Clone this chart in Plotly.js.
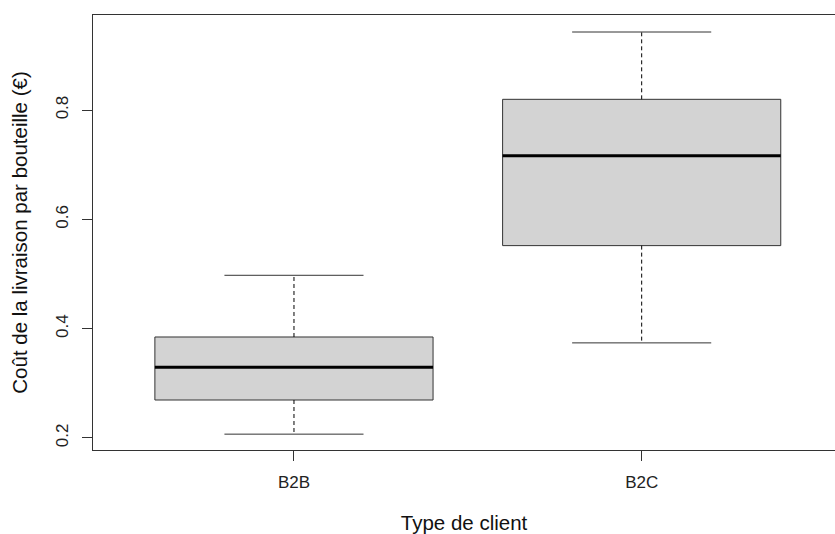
<!DOCTYPE html>
<html>
<head>
<meta charset="utf-8">
<script src="https://cdn.plot.ly/plotly-3.0.1.min.js"></script>
<style>html,body{margin:0;padding:0;background:#fff;}#chart{width:835px;height:534px;}</style>
</head>
<body>
<div id="chart"></div>
<script>
const categories = ["B2B", "B2C"];
const lowerWhisker = [0.207, 0.374];
const q1 = [0.2695, 0.552];
const median = [0.3294, 0.7166];
const q3 = [0.3848, 0.8197];
const upperWhisker = [0.4977, 0.9429];
const yTicks = [0.2, 0.4, 0.6, 0.8];

const boxHalf = 0.4;
const capHalf = 0.2;
const lineCol = "#333333";
const traces = [];

categories.forEach((c, i) => {
  const x = i + 1;
  traces.push({
    type: "scatter", mode: "lines",
    x: [x - boxHalf, x + boxHalf, x + boxHalf, x - boxHalf, x - boxHalf],
    y: [q1[i], q1[i], q3[i], q3[i], q1[i]],
    fill: "toself", fillcolor: "#D3D3D3",
    line: {color: lineCol, width: 1},
    hoverinfo: "skip", showlegend: false
  });
  traces.push({
    type: "scatter", mode: "lines",
    x: [x - boxHalf, x + boxHalf], y: [median[i], median[i]],
    line: {color: "#000000", width: 3},
    hoverinfo: "skip", showlegend: false
  });
  traces.push({
    type: "scatter", mode: "lines",
    x: [x, x, null, x, x],
    y: [q3[i], upperWhisker[i], null, q1[i], lowerWhisker[i]],
    line: {color: "#000000", width: 1, dash: "4px,3px"},
    hoverinfo: "skip", showlegend: false
  });
  traces.push({
    type: "scatter", mode: "lines",
    x: [x - capHalf, x + capHalf, null, x - capHalf, x + capHalf],
    y: [upperWhisker[i], upperWhisker[i], null, lowerWhisker[i], lowerWhisker[i]],
    line: {color: lineCol, width: 1},
    hoverinfo: "skip", showlegend: false
  });
});

const layout = {
  width: 835, height: 534,
  margin: {l: 93, r: 0, t: 15, b: 84},
  paper_bgcolor: "#ffffff", plot_bgcolor: "#ffffff",
  font: {family: "Liberation Sans, Arial, sans-serif", color: "#222222"},
  showlegend: false,
  xaxis: {
    range: [0.422, 2.556],
    tickmode: "array", tickvals: [1, 2], ticktext: categories,
    showgrid: false, zeroline: false,
    showline: true, mirror: true, linecolor: lineCol, linewidth: 1,
    ticks: "outside", ticklen: 10, tickcolor: lineCol, tickwidth: 1,
    tickfont: {size: 17, color: "#222222"},
    ticklabelstandoff: 7,
    title: {text: "Type de client", font: {size: 20.5, color: "#111111"}, standoff: 25}
  },
  yaxis: {
    range: [0.178, 0.974],
    tickmode: "array", tickvals: yTicks, ticktext: yTicks.map(v => v.toFixed(1)),
    tickangle: -90,
    showgrid: false, zeroline: false,
    showline: true, mirror: false, linecolor: lineCol, linewidth: 1,
    ticks: "outside", ticklen: 10, tickcolor: lineCol, tickwidth: 1,
    tickfont: {size: 17, color: "#222222"},
    ticklabelstandoff: 7,
    title: {text: "Coût de la livraison par bouteille (€)", font: {size: 20.5, color: "#111111"}, standoff: 20}
  }
};

Plotly.newPlot("chart", traces, layout, {displayModeBar: false, staticPlot: true});
</script>
</body>
</html>
